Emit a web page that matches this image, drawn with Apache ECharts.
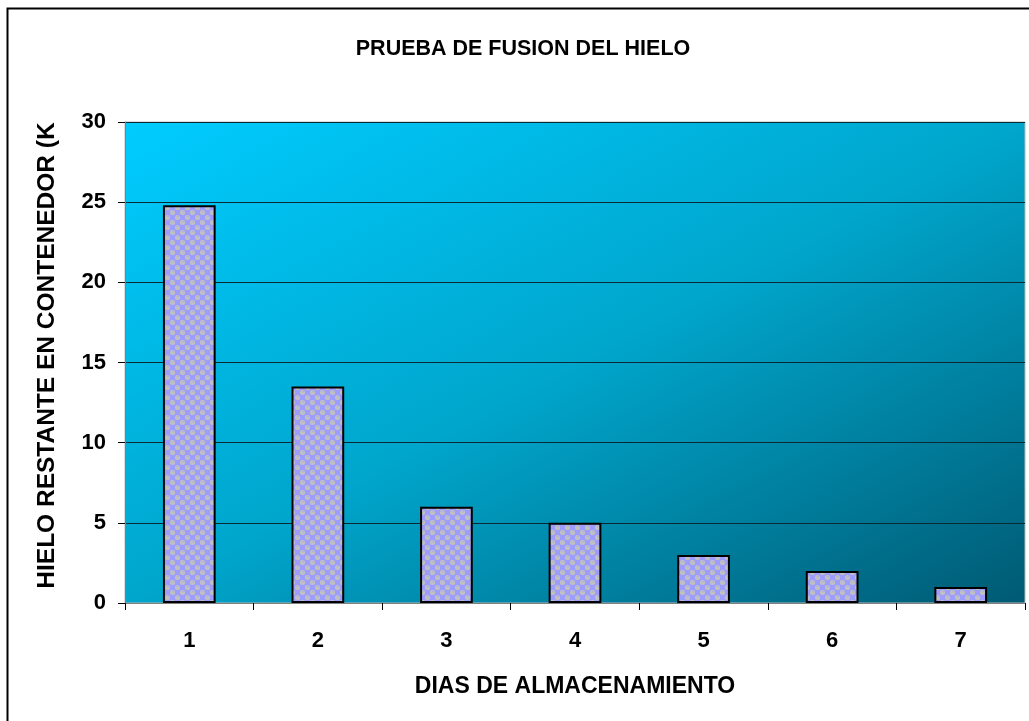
<!DOCTYPE html>
<html><head><meta charset="utf-8">
<script src="https://cdn.jsdelivr.net/npm/echarts@6/dist/echarts.min.js"></script>
<style>html,body{margin:0;padding:0;background:#fff}#c{width:1029px;height:721px}</style>
</head><body><div id="c"></div>
<script>
const categories = ['1','2','3','4','5','6','7'];
const values = [24.8, 13.5, 6, 5, 3, 2, 1];
const yTicks = [0, 5, 10, 15, 20, 25, 30];
const titleText = 'PRUEBA DE FUSION DEL HIELO';
const xName = 'DIAS DE ALMACENAMIENTO';
const yName = 'HIELO RESTANTE EN CONTENEDOR (K';

// pattern fill for bars
const pc = document.createElement('canvas');
pc.width = 10; pc.height = 10;
const g = pc.getContext('2d');
g.fillStyle = '#9d9dff'; g.fillRect(0,0,10,10);
g.fillStyle = '#c0c0c0';
g.beginPath(); g.arc(2.5,2.5,2.6,0,Math.PI*2); g.fill();
g.beginPath(); g.arc(7.5,7.5,2.6,0,Math.PI*2); g.fill();
g.fillStyle = '#b0b0e0';
g.fillRect(2,1,2,1); g.fillRect(7,6,2,1);

const chart = echarts.init(document.getElementById('c'), null, {renderer:'canvas'});
const font = 'Liberation Sans, Arial, sans-serif';
chart.setOption({
  animation: false,
  graphic: [{
    type: 'rect', shape: {x: 7.5, y: 8.5, width: 1040, height: 730},
    style: {fill: 'none', stroke: '#000', lineWidth: 2}, z: 0
  }],
  title: {
    text: titleText, left: 518, top: 33, textAlign: 'center',
    textStyle: {fontFamily: font, fontWeight: 'bold', fontSize: 21.5, color: '#000'}
  },
  grid: {
    left: 125, top: 122, width: 900, height: 481, show: true,
    borderColor: '#b8b8b8', borderWidth: 1,
    backgroundColor: new echarts.graphic.LinearGradient(125, 122, 525, 870, [
      {offset: 0, color: '#00ccff'},
      {offset: 0.5, color: '#00a6cc'},
      {offset: 1, color: '#005a73'}
    ], true)
  },
  xAxis: {
    type: 'category', data: categories,
    name: xName, nameLocation: 'middle', nameGap: 72,
    nameTextStyle: {fontFamily: font, fontWeight: 'bold', fontSize: 23, color: '#000'},
    axisLine: {lineStyle: {color: '#808080', width: 1}},
    axisTick: {show: true, alignWithLabel: false, length: 7, lineStyle: {color: '#000'}},
    axisLabel: {fontFamily: font, fontWeight: 'bold', fontSize: 22, color: '#000', margin: 27}
  },
  yAxis: {
    type: 'value', min: yTicks[0], max: yTicks[yTicks.length-1], interval: 5,
    name: yName, nameLocation: 'middle', nameGap: 65,
    nameTextStyle: {fontFamily: font, fontWeight: 'bold', fontSize: 24.5, color: '#000', padding: [0, 0, 0, 14]},
    axisLine: {show: true, lineStyle: {color: '#808080', width: 1}},
    axisTick: {show: true, length: 7, lineStyle: {color: '#000'}},
    axisLabel: {fontFamily: font, fontWeight: 'bold', fontSize: 22, color: '#000', margin: 19},
    splitLine: {lineStyle: {color: '#0a2a33', width: 1}}
  },
  series: [{
    type: 'bar', data: values, barWidth: '41%',
    itemStyle: {color: {image: pc, repeat: 'repeat'}, borderColor: '#000', borderWidth: 2}
  }]
});
</script></body></html>
